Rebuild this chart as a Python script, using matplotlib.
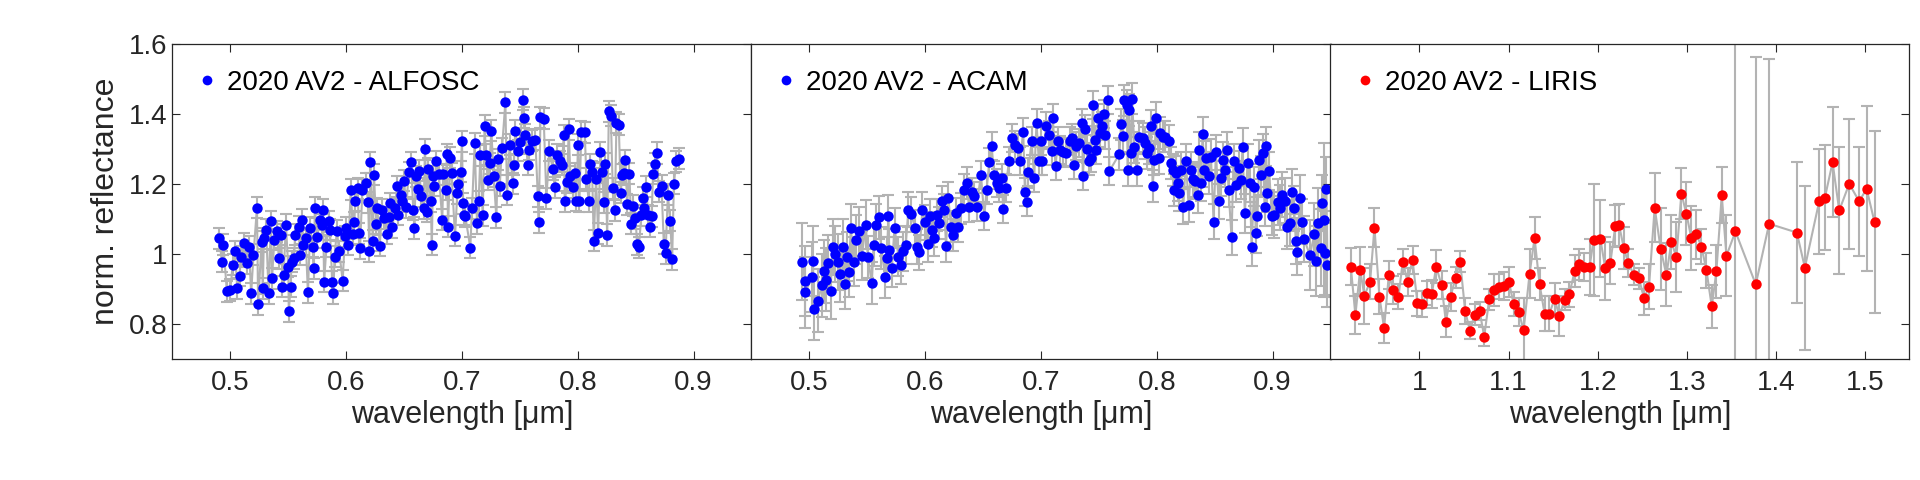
import numpy as np
import matplotlib
matplotlib.use("Agg")
import matplotlib.pyplot as plt
from matplotlib.lines import Line2D
from matplotlib.ticker import FuncFormatter

plt.rcParams['font.family'] = ['Liberation Sans', 'DejaVu Sans']

# ---- ALFOSC (0.45-0.95 um) ----
alfosc_wl = [
    0.4906, 0.494, 0.4926, 0.497, 0.500, 0.502, 0.504, 0.506, 0.508, 0.509,
    0.512, 0.514, 0.516, 0.518, 0.520, 0.523, 0.524, 0.527, 0.528, 0.529,
    0.531, 0.533, 0.535, 0.536, 0.538, 0.540, 0.542, 0.544, 0.545, 0.546,
    0.548, 0.550, 0.5505, 0.552, 0.553, 0.555, 0.556, 0.559, 0.560, 0.562,
    0.563, 0.565, 0.567, 0.569, 0.571, 0.572, 0.573, 0.575, 0.577, 0.579,
    0.580, 0.581, 0.583, 0.585, 0.586, 0.588, 0.589, 0.590, 0.592, 0.594,
    0.597, 0.599, 0.600, 0.602, 0.604, 0.606, 0.607, 0.608, 0.610, 0.611,
    0.612, 0.614, 0.617, 0.619, 0.620, 0.621, 0.623, 0.624, 0.626, 0.627,
    0.629, 0.631, 0.633, 0.635, 0.637, 0.638, 0.640, 0.642, 0.644, 0.645,
    0.647, 0.648, 0.650, 0.652, 0.654, 0.656, 0.658, 0.659, 0.660, 0.662,
    0.663, 0.665, 0.667, 0.668, 0.670, 0.671, 0.673, 0.674, 0.675, 0.676,
    0.678, 0.680, 0.683, 0.684, 0.686, 0.687, 0.688, 0.690, 0.691, 0.694,
    0.696, 0.697, 0.699, 0.700, 0.701, 0.702,
    0.7029, 0.7072, 0.7087, 0.7110, 0.7130, 0.7144, 0.7159, 0.7179, 0.7196, 0.7207,
    0.7222, 0.7239, 0.7254, 0.7274, 0.7297, 0.7311, 0.7326, 0.7346, 0.7375, 0.7389,
    0.7412, 0.7438, 0.7447, 0.7461, 0.7484, 0.7504, 0.7524, 0.7533, 0.7548, 0.7568,
    0.7583, 0.7605, 0.7634, 0.7655, 0.7663, 0.7678, 0.7706, 0.7729, 0.7755, 0.7784,
    0.7801, 0.7821, 0.7850, 0.7864, 0.7879, 0.7888, 0.7908, 0.7922, 0.7936, 0.7956,
    0.7974, 0.7985, 0.8003, 0.8014, 0.8031, 0.8060, 0.8075, 0.8095, 0.8109, 0.8124,
    0.8138, 0.8158, 0.8176, 0.8196, 0.8210, 0.8225, 0.8239, 0.8254, 0.8268, 0.8285,
    0.8302, 0.8320, 0.8334, 0.8354, 0.8371, 0.8383, 0.8397, 0.8412, 0.8426, 0.8446,
    0.8461, 0.8475, 0.8498, 0.8513, 0.8527, 0.8550, 0.8562, 0.8576, 0.8591, 0.8608,
    0.8623, 0.8637, 0.8651, 0.8666, 0.8683, 0.8700, 0.8723, 0.8743, 0.8758, 0.8778,
    0.8798, 0.8815, 0.8830, 0.8850, 0.8873,
]
alfosc_refl = [
    1.045, 1.026, 0.978, 0.894, 0.897, 0.969, 1.007, 0.902, 0.938, 0.992,
    1.030, 0.973, 1.021, 0.888, 0.997, 1.132, 0.856, 1.035, 0.902, 1.045,
    1.069, 0.888, 1.093, 0.930, 1.040, 1.064, 0.988, 1.055, 0.907, 0.940,
    1.083, 0.964, 0.837, 0.907, 0.978, 0.988, 1.055, 1.078, 0.997, 1.097,
    1.026, 1.045, 0.890, 1.074, 1.021, 0.959, 1.132, 1.047, 1.097, 1.083,
    1.126, 0.921, 1.021, 1.093, 1.069, 0.921, 0.888, 0.992, 1.066, 1.007,
    0.924, 1.050, 1.074, 1.026, 1.183, 1.056, 1.090, 1.152, 1.188, 1.059,
    1.016, 1.183, 1.202, 1.148, 1.007, 1.261, 1.037, 1.226, 1.086, 1.130,
    1.024, 1.126, 1.102, 1.057, 1.104, 1.145, 1.076, 1.130, 1.193, 1.112,
    1.169, 1.150, 1.209, 1.133, 1.233, 1.261, 1.126, 1.074, 1.221, 1.186,
    1.237, 1.164, 1.130, 1.299, 1.121, 1.243, 1.150, 1.026, 1.221, 1.195,
    1.264, 1.228, 1.097, 1.228, 1.183, 1.285, 1.078, 1.275, 1.230, 1.052,
    1.173, 1.199, 1.235, 1.321, 1.145, 1.112,
    1.107, 1.018, 1.130, 1.316, 1.088, 1.150, 1.281, 1.111, 1.366, 1.283,
    1.211, 1.259, 1.351, 1.221, 1.105, 1.270, 1.195, 1.302, 1.433, 1.169,
    1.311, 1.202, 1.254, 1.351, 1.294, 1.319, 1.440, 1.388, 1.340, 1.254,
    1.297, 1.323, 1.326, 1.164, 1.090, 1.390, 1.386, 1.159, 1.294, 1.242,
    1.190, 1.283, 1.264, 1.254, 1.338, 1.150, 1.204, 1.356, 1.221, 1.190,
    1.230, 1.152, 1.311, 1.150, 1.349, 1.347, 1.214, 1.150, 1.256, 1.235,
    1.037, 1.214, 1.059, 1.290, 1.233, 1.147, 1.257, 1.054, 1.407, 1.394,
    1.188, 1.124, 1.375, 1.368, 1.175, 1.226, 1.230, 1.267, 1.142, 1.229,
    1.086, 1.137, 1.102, 1.028, 1.019, 1.111, 1.161, 1.132, 1.192, 1.111,
    1.078, 1.108, 1.229, 1.257, 1.288, 1.178, 1.195, 1.029, 1.002, 1.169,
    1.095, 0.985, 1.200, 1.264, 1.271,
]
alfosc_err = 0.03

# ---- ACAM (0.45-0.95 um) ----
acam_wl = [
    0.4935, 0.4964, 0.4966, 0.5022, 0.5030, 0.5042, 0.5073, 0.5108, 0.5123, 0.5143,
    0.5160, 0.5183, 0.5200, 0.5223, 0.5246, 0.5266, 0.5286, 0.5309, 0.5324, 0.5338,
    0.5358, 0.5381, 0.5401, 0.5424, 0.5453, 0.5487, 0.5505, 0.5539, 0.5554, 0.5574,
    0.5597, 0.5620, 0.5654, 0.5668, 0.5683, 0.5689, 0.5712, 0.5735, 0.5769, 0.5792,
    0.5812, 0.5832, 0.5855, 0.5878, 0.5913, 0.5927, 0.5950, 0.5976, 0.5999, 0.6022,
    0.6042, 0.6056, 0.6079, 0.6099, 0.6119, 0.6142, 0.6165, 0.6180, 0.6200, 0.6223,
    0.6240, 0.6263, 0.6286, 0.6309, 0.6332, 0.6358, 0.6378, 0.6401, 0.6424, 0.6444,
    0.6481, 0.6510, 0.6530, 0.6553, 0.6573, 0.6596, 0.6617, 0.6637, 0.6660, 0.6674,
    0.6694, 0.6723, 0.6746, 0.6775, 0.6804, 0.6818, 0.6846, 0.6861, 0.6878, 0.6890,
    0.6918, 0.6941, 0.6961, 0.6981,
    0.7001, 0.7010, 0.7044, 0.7067, 0.7096, 0.7102, 0.7125, 0.7145, 0.7165, 0.7188,
    0.7217, 0.7246, 0.7269, 0.7283, 0.7303, 0.7332, 0.7355, 0.7361, 0.7384, 0.7395,
    0.7418, 0.7433, 0.7448, 0.7462, 0.7476, 0.7491, 0.7511, 0.7528, 0.7543, 0.7556,
    0.7576, 0.7591, 0.7677, 0.7691, 0.7706, 0.7720, 0.7740, 0.7749, 0.7757, 0.7778,
    0.7786, 0.7806, 0.7826, 0.7849, 0.7878, 0.7901, 0.7916, 0.7930, 0.7950, 0.7964,
    0.7979, 0.7993, 0.8016, 0.8028, 0.8050, 0.8074, 0.8102, 0.8122, 0.8137, 0.8151,
    0.8165, 0.8180, 0.8194, 0.8208, 0.8228, 0.8251, 0.8274, 0.8294, 0.8309, 0.8332,
    0.8352, 0.8366, 0.8381, 0.8395, 0.8409, 0.8424, 0.8447, 0.8467, 0.8490, 0.8510,
    0.8533, 0.8551, 0.8568, 0.8590, 0.8605, 0.8619, 0.8645, 0.8662, 0.8682, 0.8706,
    0.8726, 0.8740, 0.8760, 0.8783, 0.8803, 0.8818, 0.8841, 0.8855, 0.8869, 0.8884,
    0.8898, 0.8918, 0.8930, 0.8941, 0.8955, 0.8970, 0.8993, 0.9013, 0.9042, 0.9062,
    0.9085, 0.9108, 0.9128, 0.9148, 0.9171, 0.9185, 0.9200, 0.9214, 0.9234, 0.9257,
    0.9272, 0.9321, 0.9361, 0.9378, 0.9395, 0.9415, 0.9424, 0.9444, 0.9453, 0.9464,
    0.9473,
]
acam_refl = [
    0.978, 0.923, 0.890, 0.935, 0.980, 0.843, 0.866, 0.911, 0.951, 0.926,
    0.973, 0.894, 1.021, 0.999, 0.978, 0.942, 1.021, 0.913, 0.992, 0.948,
    1.073, 0.978, 1.040, 1.064, 0.995, 1.083, 0.990, 0.916, 1.026, 1.083,
    1.104, 1.018, 0.935, 0.988, 1.107, 1.011, 0.961, 1.075, 0.992, 0.969,
    1.007, 1.026, 1.126, 1.113, 1.075, 1.021, 1.005, 1.126, 1.090, 1.028,
    1.107, 1.069, 1.045, 1.111, 1.088, 1.150, 1.126, 1.023, 1.159, 1.078,
    1.054, 1.116, 1.078, 1.130, 1.183, 1.202, 1.135, 1.178, 1.164, 1.135,
    1.226, 1.107, 1.183, 1.261, 1.307, 1.226, 1.202, 1.188, 1.216, 1.128,
    1.188, 1.264, 1.330, 1.311, 1.302, 1.264, 1.348, 1.178, 1.148, 1.235,
    1.321, 1.218, 1.373, 1.266,
    1.321, 1.264, 1.364, 1.340, 1.294, 1.388, 1.250, 1.321, 1.297, 1.292,
    1.288, 1.321, 1.330, 1.254, 1.307, 1.316, 1.373, 1.221, 1.356, 1.300,
    1.264, 1.273, 1.426, 1.326, 1.297, 1.388, 1.345, 1.364, 1.399, 1.340,
    1.438, 1.237, 1.285, 1.370, 1.337, 1.438, 1.424, 1.240, 1.411, 1.288,
    1.443, 1.304, 1.240, 1.335, 1.330, 1.316, 1.288, 1.302, 1.366, 1.194,
    1.269, 1.388, 1.273, 1.345, 1.335, 1.335, 1.323, 1.259, 1.240, 1.183,
    1.230, 1.202, 1.173, 1.240, 1.135, 1.264, 1.140, 1.240, 1.213, 1.207,
    1.167, 1.297, 1.202, 1.342, 1.240, 1.273, 1.221, 1.278, 1.092, 1.290,
    1.150, 1.216, 1.269, 1.240, 1.297, 1.183, 1.047, 1.264, 1.197, 1.245,
    1.211, 1.304, 1.116, 1.259, 1.202, 1.021, 1.192, 1.059, 1.107, 1.269,
    1.224, 1.288, 1.135, 1.307, 1.175, 1.237, 1.109, 1.111, 1.148, 1.132,
    1.169, 1.152, 1.078, 1.088, 1.178, 1.130, 1.037, 1.005, 1.161, 1.092,
    1.042, 0.997, 1.056, 0.980, 1.088, 1.018, 1.145, 1.097, 1.002, 1.186,
    0.969,
]
acam_err = [
    0.11, 0.10, 0.10, 0.10, 0.10, 0.09, 0.09, 0.09, 0.09, 0.09,
    0.08, 0.08, 0.08, 0.08, 0.08, 0.08, 0.08, 0.07, 0.07, 0.07,
    0.07, 0.07, 0.07, 0.07, 0.07, 0.07, 0.06, 0.06, 0.06, 0.06,
    0.06, 0.06, 0.06, 0.06, 0.06, 0.06, 0.055, 0.055, 0.055, 0.055,
    0.055, 0.055, 0.05, 0.05, 0.05, 0.05, 0.05, 0.05, 0.05, 0.05,
    0.05, 0.05, 0.05, 0.045, 0.045, 0.045, 0.045, 0.045, 0.045, 0.045,
    0.045, 0.045, 0.045, 0.045, 0.045, 0.045, 0.045, 0.04, 0.04, 0.04,
    0.04, 0.04, 0.04, 0.04, 0.04, 0.04, 0.04, 0.04, 0.04, 0.04,
    0.04, 0.04, 0.04, 0.04, 0.04, 0.04, 0.04, 0.04, 0.04, 0.04,
    0.04, 0.04, 0.04, 0.04,
    0.04, 0.04, 0.04, 0.04, 0.04, 0.04, 0.04, 0.04, 0.04, 0.04,
    0.04, 0.04, 0.04, 0.04, 0.04, 0.04, 0.04, 0.04, 0.04, 0.04,
    0.04, 0.04, 0.04, 0.04, 0.04, 0.04, 0.04, 0.04, 0.04, 0.04,
    0.04, 0.04, 0.045, 0.045, 0.045, 0.045, 0.045, 0.045, 0.045, 0.045,
    0.045, 0.045, 0.045, 0.045, 0.045, 0.045, 0.045, 0.045, 0.045, 0.045,
    0.045, 0.045, 0.045, 0.045, 0.045, 0.045, 0.045, 0.045, 0.045, 0.045,
    0.05, 0.05, 0.05, 0.05, 0.05, 0.05, 0.05, 0.05, 0.05, 0.05,
    0.05, 0.05, 0.05, 0.05, 0.05, 0.05, 0.05, 0.05, 0.05, 0.05,
    0.05, 0.05, 0.05, 0.05, 0.05, 0.05, 0.05, 0.05, 0.05, 0.05,
    0.055, 0.055, 0.055, 0.055, 0.055, 0.055, 0.055, 0.055, 0.055, 0.055,
    0.055, 0.055, 0.055, 0.055, 0.055, 0.055, 0.055, 0.065, 0.065, 0.065,
    0.065, 0.065, 0.065, 0.065, 0.065, 0.065, 0.065, 0.065, 0.065, 0.065,
    0.065, 0.10, 0.09, 0.10, 0.10, 0.11, 0.08, 0.22, 0.12, 0.09,
    0.12,
]

# ---- LIRIS (0.9-1.55 um) ----
liris_wl = [
    0.9229, 0.9281, 0.9334, 0.9382, 0.9446, 0.9495, 0.9551, 0.9603, 0.9656, 0.9708,
    0.9764, 0.9813, 0.9866, 0.9922, 0.9978, 1.0030, 1.0083, 1.0139, 1.0188, 1.0248,
    1.0296, 1.0349, 1.0405, 1.0457, 1.0513, 1.0566, 1.0618, 1.0675, 1.0727, 1.0783,
    1.0839, 1.0892, 1.0944, 1.1004, 1.1057, 1.1113, 1.1169, 1.1236, 1.1292, 1.1348,
    1.1405, 1.1457, 1.1517, 1.1570, 1.1630, 1.1682, 1.1742, 1.1794, 1.1850, 1.1910,
    1.1955, 1.2030, 1.2086, 1.2143, 1.2199, 1.2240, 1.2293, 1.2342, 1.2408, 1.2464,
    1.2521, 1.2577, 1.2640, 1.2708, 1.2772, 1.2828, 1.2884, 1.2940, 1.2996, 1.3052,
    1.3109, 1.3165, 1.3221, 1.3281, 1.3333, 1.3393, 1.3446, 1.3547, 1.3775, 1.3925,
    1.4236, 1.4326, 1.4487, 1.4551, 1.4637, 1.4712, 1.4824, 1.4936, 1.5019, 1.5109,
]
liris_refl = [
    0.964, 0.826, 0.954, 0.881, 0.921, 1.075, 0.878, 0.788, 0.940, 0.897,
    0.878, 0.978, 0.921, 0.983, 0.859, 0.857, 0.888, 0.886, 0.964, 0.911,
    0.807, 0.878, 0.932, 0.978, 0.837, 0.781, 0.826, 0.837, 0.764, 0.871,
    0.897, 0.907, 0.909, 0.921, 0.857, 0.835, 0.783, 0.943, 1.045, 0.914,
    0.829, 0.829, 0.871, 0.823, 0.869, 0.885, 0.951, 0.970, 0.964, 0.964,
    1.040, 1.043, 0.959, 0.975, 1.081, 1.083, 1.018, 0.975, 0.940, 0.930,
    0.873, 0.907, 1.132, 1.014, 0.940, 1.035, 0.990, 1.172, 1.115, 1.045,
    1.056, 1.021, 0.954, 0.850, 0.950, 1.167, 0.995, 1.064, 0.913, 1.086,
    1.061, 0.961, 1.150, 1.161, 1.261, 1.124, 1.200, 1.150, 1.186, 1.090,
]
liris_err = [
    0.054, 0.055, 0.067, 0.08, 0.05, 0.055, 0.05, 0.043, 0.04, 0.04,
    0.035, 0.036, 0.04, 0.041, 0.036, 0.036, 0.035, 0.04, 0.048, 0.04,
    0.044, 0.04, 0.03, 0.031, 0.036, 0.025, 0.03, 0.027, 0.028, 0.03,
    0.045, 0.035, 0.04, 0.043, 0.035, 0.04, 0.09, 0.07, 0.059, 0.045,
    0.05, 0.05, 0.045, 0.057, 0.03, 0.036, 0.046, 0.044, 0.04, 0.08,
    0.16, 0.11, 0.09, 0.06, 0.06, 0.06, 0.06, 0.04, 0.03, 0.03,
    0.046, 0.065, 0.098, 0.117, 0.09, 0.077, 0.10, 0.073, 0.09, 0.092,
    0.07, 0.05, 0.05, 0.06, 0.075, 0.08, 0.115, 0.60, 0.65, 0.47,
    0.20, 0.234, 0.15, 0.15, 0.157, 0.18, 0.185, 0.155, 0.235, 0.26,
]

panels = [
    (alfosc_wl, alfosc_refl, alfosc_err, 'blue', '2020 AV2 - ALFOSC', (0.45, 0.95),
     [0.5, 0.6, 0.7, 0.8, 0.9]),
    (acam_wl, acam_refl, acam_err, 'blue', '2020 AV2 - ACAM', (0.45, 0.95),
     [0.5, 0.6, 0.7, 0.8, 0.9]),
    (liris_wl, liris_refl, liris_err, 'red', '2020 AV2 - LIRIS', (0.9, 1.55),
     [1.0, 1.1, 1.2, 1.3, 1.4, 1.5]),
]

fig = plt.figure(figsize=(19.2, 4.8), dpi=100)
txt = '#262626'
gray = '#b3b3b3'
fmt = FuncFormatter(lambda v, p: '%g' % v)

lefts = [0.0898, 0.3914, 0.6929]
for i, (wl, refl, err, col, name, xlim, xt) in enumerate(panels):
    ax = fig.add_axes([lefts[i], 0.252, 0.3016, 0.657])
    order = np.argsort(wl)
    x = np.array(wl)[order]
    y = np.array(refl)[order]
    e = np.broadcast_to(np.array(err), np.shape(wl))[order]
    ax.errorbar(x, y, yerr=e, fmt='-', color=gray, ecolor=gray, lw=1.5,
                elinewidth=1.5, capsize=4.5, capthick=1.5, zorder=1)
    ax.plot(x, y, 'o', color=col, ms=7.5, mec='none', zorder=2)
    ax.set_xlim(*xlim)
    ax.set_ylim(0.7, 1.6)
    ax.set_xticks(xt)
    ax.set_yticks([0.8, 1.0, 1.2, 1.4, 1.6])
    ax.xaxis.set_major_formatter(fmt)
    ax.yaxis.set_major_formatter(fmt)
    ax.tick_params(direction='in', length=6, width=0.8, colors=txt,
                   labelsize=20, top=True, right=True)
    ax.tick_params(axis='x', pad=8)
    if i > 0:
        ax.tick_params(axis='y', left=False, labelleft=False)
    else:
        ax.set_ylabel('norm. reflectance', fontsize=23, color=txt, labelpad=6)
    ax.set_xlabel('wavelength [\u03bcm]', fontsize=22, color=txt, labelpad=3)
    for s in ax.spines.values():
        s.set_linewidth(0.9)
        s.set_color(txt)
    h = Line2D([], [], ls='none', marker='o', color=col, ms=7, mec='none')
    ax.legend([h], [name], loc='upper left', bbox_to_anchor=(0.012, 0.97),
              frameon=False, fontsize=20, handlelength=0.8, handletextpad=0.3,
              borderaxespad=0.2)

fig.savefig('out.png', dpi=100)
